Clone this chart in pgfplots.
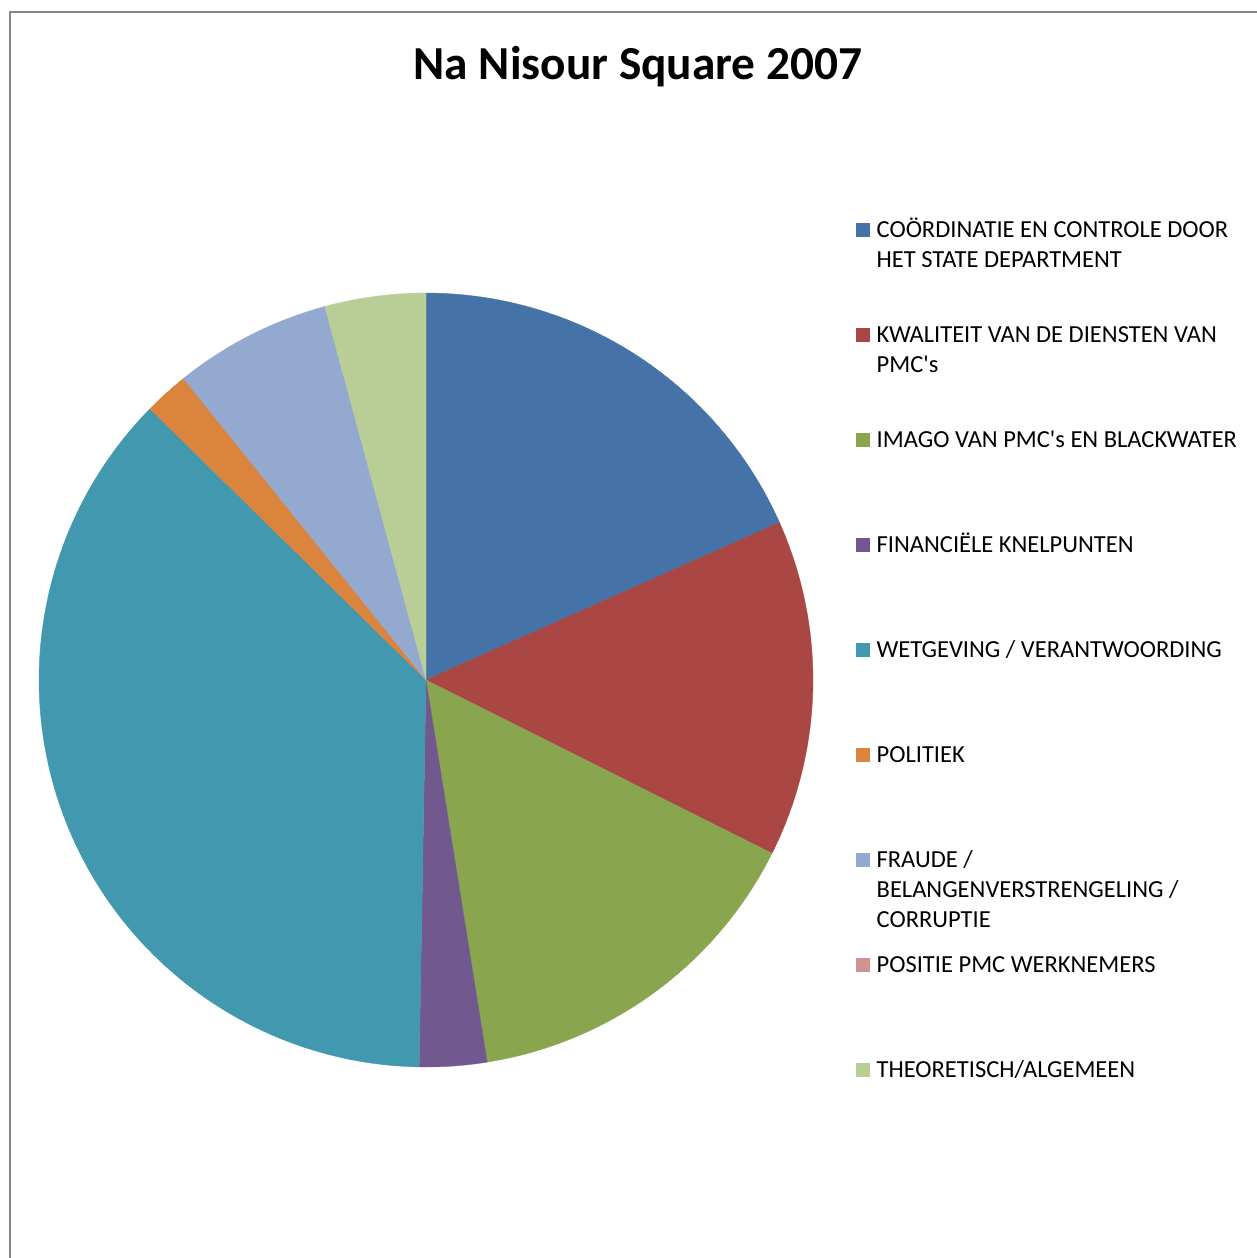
\documentclass[border=0pt]{standalone}
\usepackage{fontspec}
\setmainfont{Carlito}
\usepackage{pgfplots}
\usepackage{pgfplotstable}
\usepgfplotslibrary{polar}
\pgfplotsset{compat=1.18}

\definecolor{c1}{HTML}{4572A7}
\definecolor{c2}{HTML}{AA4643}
\definecolor{c3}{HTML}{89A54E}
\definecolor{c4}{HTML}{71588F}
\definecolor{c5}{HTML}{4198AF}
\definecolor{c6}{HTML}{DB843D}
\definecolor{c7}{HTML}{93A9CF}
\definecolor{c8}{HTML}{D19392}
\definecolor{c9}{HTML}{B9CD96}
\definecolor{framegray}{HTML}{868686}

% share of each category, in percent
\pgfplotstableread{
value
18.33
14.06
15.08
2.81
37.08
1.86
6.57
0
4.21
}\piedata

\def\cum{0}%
\pgfplotsforeachungrouped \i in {0,...,8}{%
  \pgfplotstablegetelem{\i}{value}\of\piedata%
  \pgfmathsetmacro\tmpa{90-3.6*\cum}%
  \pgfmathsetmacro\newcum{\cum+\pgfplotsretval}%
  \pgfmathsetmacro\tmpb{90-3.6*\newcum}%
  \expandafter\xdef\csname pieA\i\endcsname{\tmpa}%
  \expandafter\xdef\csname pieB\i\endcsname{\tmpb}%
  \xdef\cum{\newcum}%
}
\def\pa#1{\csname pieA#1\endcsname}
\def\pb#1{\csname pieB#1\endcsname}

\begin{document}%
\begin{tikzpicture}
\begin{polaraxis}[
  hide axis, clip=false,
  scale only axis, width=232.2pt, height=232.2pt,
  ymin=0, ymax=1,
  at={(127.8pt,-204pt)}, anchor=center,
]
\addplot[fill=c1, draw=c1, line width=0.1pt, domain=\pb0:\pa0, samples=80] {1} -- (axis cs:0,0) -- cycle;
\addplot[fill=c2, draw=c2, line width=0.1pt, domain=\pb1:\pa1, samples=80] {1} -- (axis cs:0,0) -- cycle;
\addplot[fill=c3, draw=c3, line width=0.1pt, domain=\pb2:\pa2, samples=80] {1} -- (axis cs:0,0) -- cycle;
\addplot[fill=c4, draw=c4, line width=0.1pt, domain=\pb3:\pa3, samples=30] {1} -- (axis cs:0,0) -- cycle;
\addplot[fill=c5, draw=c5, line width=0.1pt, domain=\pb4:\pa4, samples=120] {1} -- (axis cs:0,0) -- cycle;
\addplot[fill=c6, draw=c6, line width=0.1pt, domain=\pb5:\pa5, samples=20] {1} -- (axis cs:0,0) -- cycle;
\addplot[fill=c7, draw=c7, line width=0.1pt, domain=\pb6:\pa6, samples=40] {1} -- (axis cs:0,0) -- cycle;
\addplot[fill=c9, draw=c9, line width=0.1pt, domain=\pb8:\pa8, samples=30] {1} -- (axis cs:0,0) -- cycle;
\end{polaraxis}

\begin{scope}[x=0.3pt, y=-0.3pt]
  \draw[framegray, line width=0.6pt] (1258,12) -- (10,12) -- (10,1260);
  \node[anchor=base, font=\bfseries\fontsize{14.2}{17}\selectfont] at (638,79) {Na Nisour Square 2007};
  \tikzset{lg/.style={anchor=base west, inner sep=0pt, font=\fontsize{7.35}{9}\selectfont}}
  \newcommand\entry[3]{%
    \fill[#1] (856,#2-7) rectangle (870,#2+7);
    \foreach \t [count=\k from 0] in {#3} {
      \node[lg] at (876,#2+7+30*\k) {\t};
    }
  }
  \entry{c1}{230}{COÖRDINATIE EN CONTROLE DOOR, HET STATE DEPARTMENT}
  \entry{c2}{335}{KWALITEIT VAN DE DIENSTEN VAN, PMC\textquotesingle s}
  \entry{c3}{440}{IMAGO VAN PMC\textquotesingle s EN BLACKWATER}
  \entry{c4}{545}{FINANCIËLE KNELPUNTEN}
  \entry{c5}{650}{WETGEVING / VERANTWOORDING}
  \entry{c6}{755}{POLITIEK}
  \entry{c7}{860}{FRAUDE /, BELANGENVERSTRENGELING /, CORRUPTIE}
  \entry{c8}{965}{POSITIE PMC WERKNEMERS}
  \entry{c9}{1070}{THEORETISCH/ALGEMEEN}
\end{scope}
\pgfresetboundingbox
\path (0,0) rectangle (377.1pt,-377.4pt);
\end{tikzpicture}%
\end{document}
